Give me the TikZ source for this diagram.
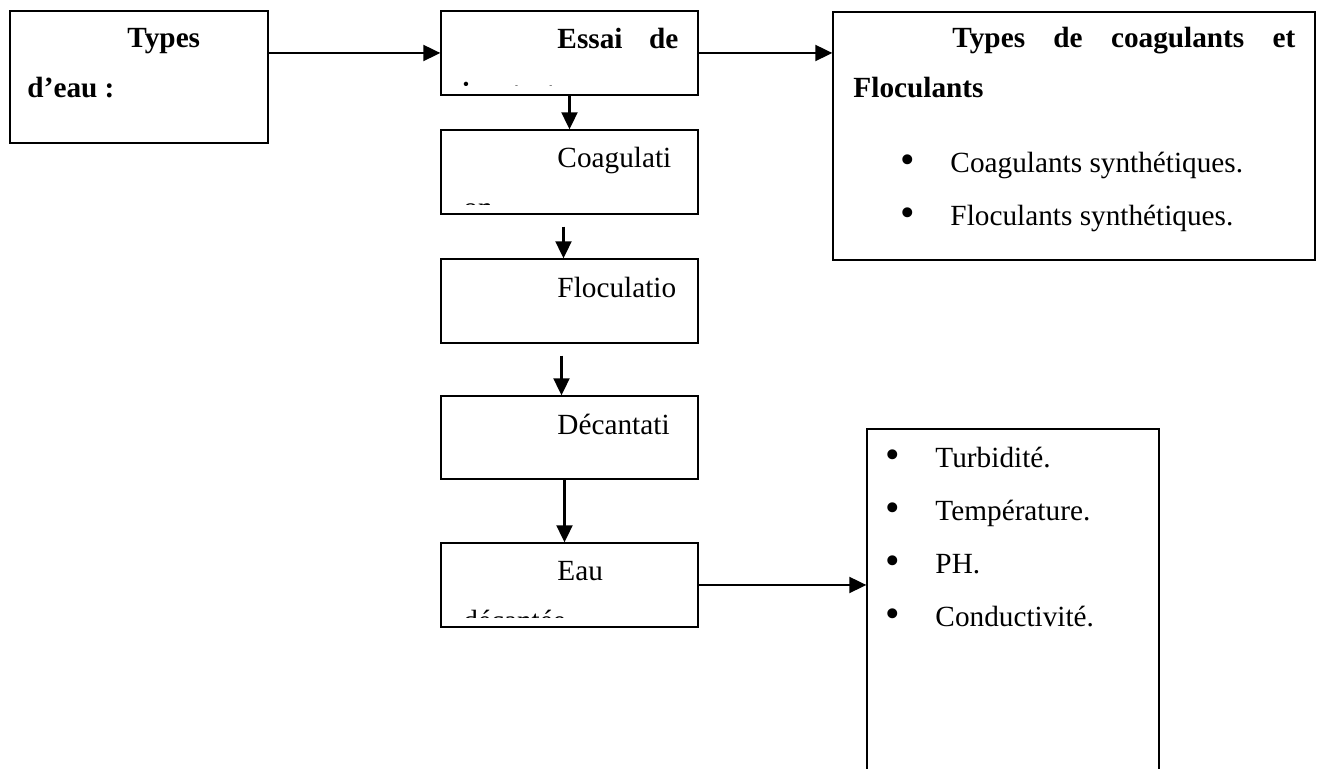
\documentclass[tikz,border=0pt]{standalone}
\usepackage{fontspec}
\setmainfont{Liberation Serif}
\usetikzlibrary{arrows.meta,fit,calc}
\begin{document}
\begin{tikzpicture}[x=0.41pt,y=-0.41pt,
  box/.style={draw, line width=0.5pt, inner sep=0pt},
  arr/.style={line width=1pt, -{Triangle[length=7pt,width=6.5pt]}},
  txt/.style={anchor=base west, inner sep=0pt, font=\fontsize{12}{14}\selectfont},
  btxt/.style={txt, font=\fontsize{12}{14}\selectfont\bfseries},
  bul/.style={anchor=center, inner sep=0pt, font=\fontsize{17}{18}\selectfont}]
\clip (0,0) rectangle (1324,769);
\fill[white] (0,0) rectangle (1324,769);

% frames
\node[box, fit={(10,11) (268,143)}] (types) {};
\node[box, fit={(441,11) (698,95)}] (essai) {};
\node[box, fit={(441,130) (698,214)}] (coag) {};
\node[box, fit={(441,259) (698,343)}] (floc) {};
\node[box, fit={(441,396) (698,479)}] (decant) {};
\node[box, fit={(441,543) (698,627)}] (eau) {};
\node[box, fit={(833,12) (1315,260)}] (agents) {};
\node[box, fit={(867,429) (1159,800)}] (param) {};

% connectors
\draw[arr] (types.east |- essai.west) -- (essai.west);
\draw[arr] (essai.east) -- (essai.east -| agents.west);
\draw[arr] (essai.south) -- (coag.north);
\draw[arr] ($(coag.south)+(-6,12)$) -- ($(coag.south |- floc.north)+(-6,0)$);
\draw[arr] ($(floc.south)+(-8,12)$) -- ($(floc.south |- decant.north)+(-8,0)$);
\draw[arr] ($(decant.south)+(-5,0)$) -- ($(decant.south |- eau.north)+(-5,0)$);
\draw[arr] (eau.east) -- (eau.east -| param.west);

% left frame
\node[btxt] (typesA) at (127,48) {Types};
\node[btxt] (typesB) at (27,98) {d’eau :};

% process steps
\node[btxt] (essaiA) at (557,49) {\makebox[49.6pt][s]{Essai de}};
\begin{scope}
  \clip (essai.north west) rectangle ($(essai.south east)+(0,-10)$);
  \node[btxt] (essaiB) at (460,103) {jar};
  \node[btxt] (essaiC) at (511,103) {test};
\end{scope}
\node[txt] (coagA) at (557,168) {Coagulati};
\begin{scope}
  \clip (coag.north west) rectangle ($(coag.south east)+(0,-10)$);
  \node[txt] (coagB) at (463,218) {on};
\end{scope}
\node[txt] (flocA) at (557,298) {Floculatio};
\node[txt] (decantA) at (557,435) {Décantati};
\node[txt] (eauA) at (557,581) {Eau};
\begin{scope}
  \clip (eau.north west) rectangle ($(eau.south east)+(0,-10)$);
  \node[txt] (eauB) at (463,631) {décantée};
\end{scope}

% coagulant / flocculant frame
\node[btxt] (agentsA) at (952,48) {\makebox[140.6pt][s]{Types de coagulants et}};
\node[btxt] (agentsB) at (853,98) {Floculants};
\node[bul] (b1) at (908,164) {•};
\node[txt] (agentsC) at (950,173) {Coagulants synthétiques.};
\node[bul] (b2) at (908,217) {•};
\node[txt] (agentsD) at (950,226) {Floculants synthétiques.};

% measured parameters
\node[bul] (b3) at (893,459) {•};
\node[txt] (p1) at (935,468) {Turbidité.};
\node[bul] (b4) at (893,512) {•};
\node[txt] (p2) at (935,521) {Température.};
\node[bul] (b5) at (893,565) {•};
\node[txt] (p3) at (935,574) {PH.};
\node[bul] (b6) at (893,618) {•};
\node[txt] (p4) at (935,627) {Conductivité.};
\end{tikzpicture}
\end{document}
